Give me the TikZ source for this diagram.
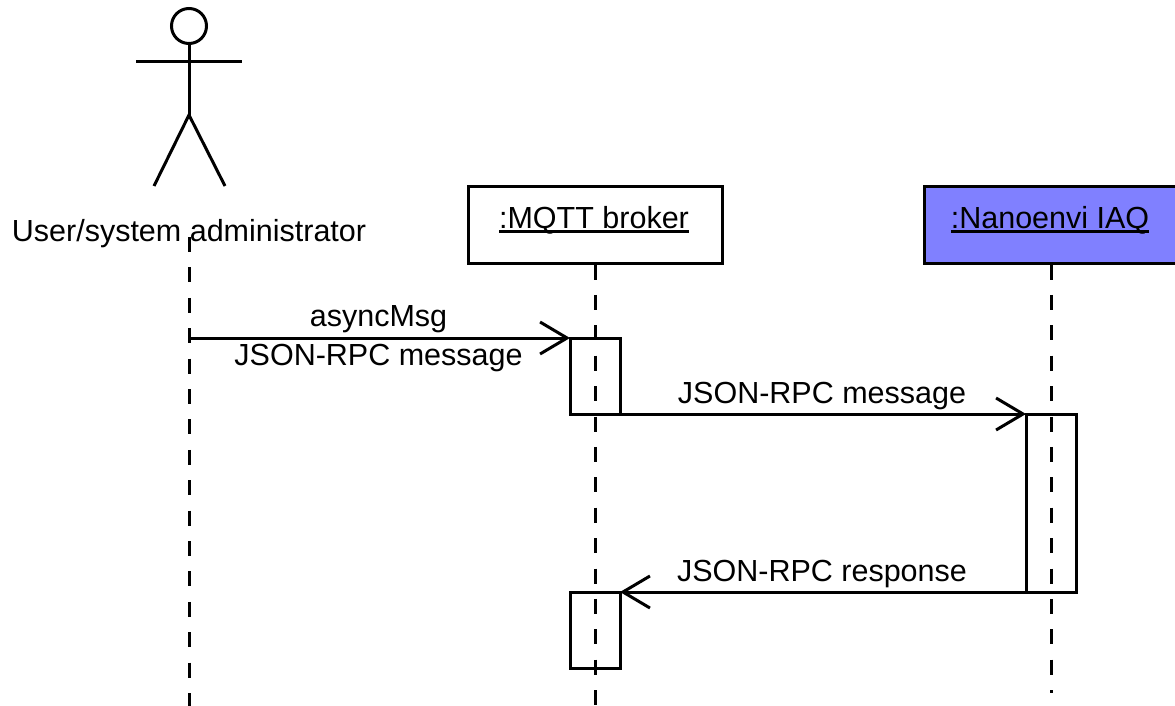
\documentclass[tikz,border=0pt]{standalone}
\usepackage{fontspec}
\setmainfont{Liberation Sans}
\usetikzlibrary{arrows.meta,positioning}

\newcommand{\objname}[1]{\setbox0=\hbox{#1}\rlap{\vrule width\wd0 height -1.5pt depth 4.5pt}\box0}

\begin{document}
\begin{tikzpicture}[x=1pt,y=-1pt,line width=3pt,
    every node/.style={font=\fontsize{30.5}{36}\selectfont},
    object/.style={draw,minimum width=254pt,minimum height=77pt,inner sep=0pt},
    objlabel/.style={inner sep=0pt,anchor=base},
    activation/.style={draw,minimum width=50pt,inner sep=0pt,outer sep=0pt},
    lifeline/.style={dash pattern=on 15pt off 15.4pt},
    message/.style={-{Straight Barb[length=27pt,width=32pt,line width=3pt]}},
    msglabel/.style={inner sep=0pt,text depth=0pt}]

\useasboundingbox (0,0) rectangle (1175,706);

% Actor
\node[draw,circle,minimum size=35pt,inner sep=0pt] (head) at (189,26) {};
\coordinate (hip) at (189,115);
\coordinate (armL) at (136,61.5);
\coordinate (armR) at (242,61.5);
\coordinate (legL) at (154,186);
\coordinate (legR) at (225,186);
\draw (head) -- (hip);
\draw (armL) -- (armR);
\draw (legL) -- (hip) -- (legR);
\node[objlabel] (actor) at (189,241) {User/system administrator};

% Objects
\node[object] (broker) at (595,224.5) {};
\node[object,fill={rgb,255:red,128;green,128;blue,255}] (iaq) at (1051,224.5) {};
\node[objlabel] (brokerName) at (594,228) {\objname{:MQTT broker}};
\node[objlabel] (iaqName) at (1050,228) {\objname{:Nanoenvi IAQ}};

% Lifelines
\coordinate (actorTop) at (189,237);
\coordinate (actorEnd) at (189,706);
\coordinate (brokerEnd) at (595,706);
\coordinate (iaqEnd) at (1051,693);
\draw[lifeline] (actorTop) -- (actorEnd);
\draw[lifeline] (broker.south) -- (brokerEnd);
\draw[lifeline] (iaq.south) -- (iaqEnd);

% Activations
\node[activation,minimum height=76pt] (actBroker1) at (595,376) {};
\node[activation,minimum height=178pt] (actIaq) at (1051,503) {};
\node[activation,minimum height=76pt] (actBroker2) at (595,630) {};

% Messages
\coordinate (actorMsg) at (189,338);
\draw[message] (actorMsg) -- (actBroker1.north west)
    node[midway,above=10pt,msglabel,xshift=-1pt] (lblAsync) {asyncMsg}
    node[midway,below=5pt,msglabel,xshift=-1pt] (lblJson1) {JSON-RPC message};
\draw[message] (actBroker1.south east) -- (actIaq.north west)
    node[midway,above=9pt,msglabel,xshift=-1pt] (lblJson2) {JSON-RPC message};
\draw[message] (actIaq.south west) -- (actBroker2.north east)
    node[midway,above=9pt,msglabel,xshift=-1pt] (lblJson3) {JSON-RPC response};

\end{tikzpicture}
\end{document}
